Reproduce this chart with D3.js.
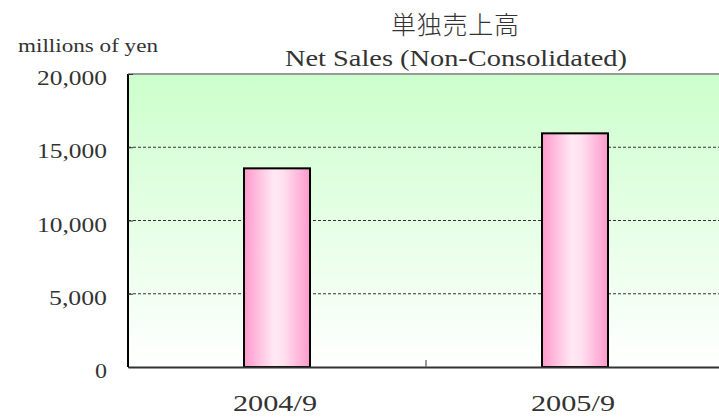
<!DOCTYPE html>
<html>
<head>
<meta charset="utf-8">
<script src="https://cdn.jsdelivr.net/npm/d3@7"></script>
<style>
  body { margin: 0; background: #fff; }
  text { font-family: "Liberation Serif", "DejaVu Serif", serif; fill: #333; }
  .cjk { font-family: "Noto Sans CJK JP", sans-serif; font-weight: 300; }
</style>
</head>
<body>
<script>
var categories = ["2004/9", "2005/9"];
var sales = [13560, 15950];
var yTicks = [0, 5000, 10000, 15000, 20000];

var width = 719, height = 417;
var margin = {left: 128, top: 74, right: -5, bottom: 50};

var svg = d3.select("body").append("svg")
    .attr("width", width)
    .attr("height", height);

var defs = svg.append("defs");

var bg = defs.append("linearGradient").attr("id", "bg")
    .attr("x1", 0).attr("y1", 0).attr("x2", 0).attr("y2", 1);
bg.append("stop").attr("offset", "0%").attr("stop-color", "#ccffcc");
bg.append("stop").attr("offset", "100%").attr("stop-color", "#ffffff");

var barGrad = defs.append("linearGradient").attr("id", "bar")
    .attr("x1", 0).attr("y1", 0).attr("x2", 1).attr("y2", 0);
barGrad.append("stop").attr("offset", "0%").attr("stop-color", "#ff99cc");
barGrad.append("stop").attr("offset", "45%").attr("stop-color", "#ffe8f3");
barGrad.append("stop").attr("offset", "60%").attr("stop-color", "#ffe0ef");
barGrad.append("stop").attr("offset", "100%").attr("stop-color", "#ff99cc");

var band = d3.scaleBand().domain(categories).range([margin.left, width - margin.right]);

var y = d3.scaleLinear()
    .domain([0, 20000])
    .range([height - margin.bottom, margin.top]);

// plot background
svg.append("rect")
    .attr("x", margin.left)
    .attr("y", y(20000))
    .attr("width", width - margin.right - margin.left)
    .attr("height", y(0) - y(20000))
    .attr("fill", "url(#bg)");

// gridlines
svg.selectAll(".grid")
    .data(yTicks.filter(function(d) { return d > 0 && d < 20000; }))
    .enter().append("line")
    .attr("x1", margin.left)
    .attr("x2", width - margin.right)
    .attr("y1", function(d) { return y(d); })
    .attr("y2", function(d) { return y(d); })
    .attr("stroke", "#333")
    .attr("stroke-width", 1)
    .attr("stroke-dasharray", "3,2");

// top border
svg.append("line")
    .attr("x1", margin.left).attr("x2", width - margin.right)
    .attr("y1", y(20000)).attr("y2", y(20000))
    .attr("stroke", "#999").attr("stroke-width", 2);

// bars
svg.selectAll(".bar")
    .data(sales)
    .enter().append("rect")
    .attr("class", "bar")
    .attr("x", function(d, i) { return band(categories[i]) + band.bandwidth() / 2 - 33; })
    .attr("width", 66)
    .attr("y", function(d) { return y(d); })
    .attr("height", function(d) { return y(0) - y(d); })
    .attr("fill", "url(#bar)")
    .attr("stroke", "#000")
    .attr("stroke-width", 2);

// y axis
var yAxis = svg.append("g")
    .attr("transform", "translate(" + margin.left + ",0)")
    .call(d3.axisRight(y).tickValues(yTicks).tickSize(5).tickFormat(""));
yAxis.select(".domain").attr("stroke", "#000").attr("stroke-width", 2).attr("d", "M0," + y(20000) + "V" + y(0));
yAxis.selectAll(".tick line").attr("stroke", "#333");

svg.selectAll(".ylab")
    .data(yTicks)
    .enter().append("text")
    .attr("x", 107)
    .attr("y", function(d) { return y(d) + 11; })
    .attr("text-anchor", "end")
    .attr("textLength", function(d) { return d === 0 ? 12 : (d < 10000 ? 58 : 70); })
    .attr("lengthAdjust", "spacingAndGlyphs")
    .style("font-size", "22px")
    .text(function(d) { return d3.format(",")(d); });

// x axis
var xAxis = svg.append("g")
    .attr("transform", "translate(0," + y(0) + ")")
    .call(d3.axisBottom(band).tickValues([]).tickSizeOuter(0));
xAxis.select(".domain").attr("stroke", "#333").attr("stroke-width", 2);

// category separator tick
svg.append("line")
    .attr("x1", band(categories[1])).attr("x2", band(categories[1]))
    .attr("y1", y(0)).attr("y2", y(0) - 7)
    .attr("stroke", "#777").attr("stroke-width", 1.5);

svg.selectAll(".xlab")
    .data(categories)
    .enter().append("text")
    .attr("x", function(d) { return band(d) + band.bandwidth() / 2 - 2; })
    .attr("y", 411)
    .attr("text-anchor", "middle")
    .attr("textLength", 84)
    .attr("lengthAdjust", "spacingAndGlyphs")
    .style("font-size", "24px")
    .text(function(d) { return d; });

// titles
svg.append("text")
    .attr("class", "cjk")
    .attr("x", 455).attr("y", 34)
    .attr("text-anchor", "middle")
    .style("font-size", "25px")
    .attr("textLength", 128)
    .text("単独売上高");

svg.append("text")
    .attr("x", 456).attr("y", 66)
    .attr("text-anchor", "middle")
    .style("font-size", "23px")
    .attr("textLength", 342)
    .attr("lengthAdjust", "spacingAndGlyphs")
    .text("Net Sales (Non-Consolidated)");

svg.append("text")
    .attr("x", 18).attr("y", 52)
    .style("font-size", "19px")
    .attr("textLength", 140)
    .attr("lengthAdjust", "spacingAndGlyphs")
    .text("millions of yen");
</script>
</body>
</html>
